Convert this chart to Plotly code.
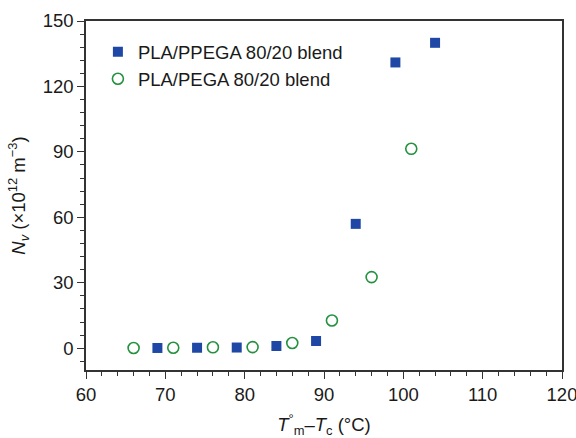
import plotly.graph_objects as go

# Undercooling (°C) and nucleation density (x10^12 m^-3)
ppega_x = [69, 74, 79, 84, 89, 94, 99, 104]
ppega_y = [0.1, 0.2, 0.3, 1.0, 3.3, 57, 131, 140]
pega_x = [66, 71, 76, 81, 86, 91, 96, 101]
pega_y = [0.1, 0.2, 0.4, 0.5, 2.4, 12.7, 32.6, 91.4]

x_ticks = [60, 70, 80, 90, 100, 110, 120]
y_ticks = [0, 30, 60, 90, 120, 150]

blue = "#1f48a6"
green = "#23913f"
ink = "#1a1a1a"
font_family = "Liberation Sans, Arial, sans-serif"
fs = 18.5

fig = go.Figure()
fig.add_trace(go.Scatter(
    x=ppega_x, y=ppega_y, mode="markers", name="PLA/PPEGA 80/20 blend",
    marker=dict(symbol="square", size=10, color=blue, line=dict(width=0)),
))
fig.add_trace(go.Scatter(
    x=pega_x, y=pega_y, mode="markers", name="PLA/PEGA 80/20 blend",
    marker=dict(symbol="circle-open", size=11, color=green, line=dict(width=1.6, color=green)),
))

axis_common = dict(
    showline=True, linecolor="#333333", linewidth=1.5, mirror=True,
    showgrid=False, zeroline=False, ticks="outside", ticklen=7, tickwidth=1.2,
    tickcolor="#333333", tickfont=dict(size=fs, color=ink, family=font_family),
    ticklabeloverflow="allow", automargin=False,
)

fig.update_xaxes(
    range=[60, 120], tickvals=x_ticks,
    minor=dict(dtick=2, ticks="outside", ticklen=4, tickwidth=1.2, tickcolor="#333333"),
    title=dict(text="<i>T</i><sup>°</sup><sub>m</sub>–<i>T</i><sub>c</sub> (°C)",
               font=dict(size=fs, color=ink, family=font_family), standoff=16),
    **axis_common,
)
fig.update_yaxes(
    range=[-10, 150], tickvals=y_ticks,
    minor=dict(dtick=6, tick0=0, ticks="outside", ticklen=4, tickwidth=1.2, tickcolor="#333333"),
    title=dict(text="<i>N<sub>v</sub></i> (×10<sup>12</sup> m<sup>−3</sup>)",
               font=dict(size=fs, color=ink, family=font_family), standoff=12),
    **axis_common,
)

fig.update_layout(
    width=576, height=438,
    margin=dict(l=86, r=14, t=21, b=68),
    plot_bgcolor="white", paper_bgcolor="white",
    font=dict(family=font_family, color=ink),
    legend=dict(x=0.025, y=0.965, xanchor="left", yanchor="top",
                font=dict(size=fs, family=font_family, color=ink),
                bgcolor="rgba(0,0,0,0)", itemwidth=30, tracegroupgap=0),
    showlegend=True,
)

fig.write_html("out.html")
